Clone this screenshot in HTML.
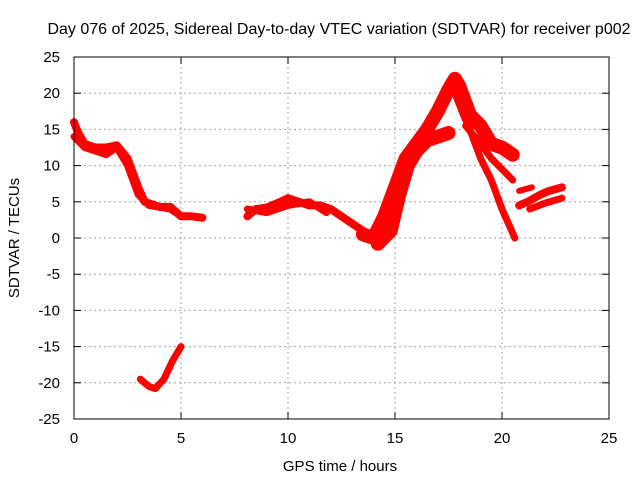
<!DOCTYPE html>
<html><head><meta charset="utf-8"><style>
body{margin:0;background:#fff;}
svg{display:block;font-family:"Liberation Sans",sans-serif;}
</style></head><body>
<svg id="chart" width="640" height="480">
<rect width="640" height="480" fill="#fff"/>
<text x="339" y="34" text-anchor="middle" font-size="16">Day 076 of 2025, Sidereal Day-to-day VTEC variation (SDTVAR) for receiver p002</text>
<text x="340" y="471" text-anchor="middle" font-size="15">GPS time / hours</text>
<text transform="translate(19,238) rotate(-90)" text-anchor="middle" font-size="15">SDTVAR / TECUs</text>
<g id="grid"></g><g id="data"></g>
<rect x="74" y="57" width="535" height="362" fill="none" stroke="#000"/>
</svg>
<script>
const xTicks=[0,5,10,15,20,25];
const yTicks=[25,20,15,10,5,0,-5,-10,-15,-20,-25];
const trackA_x=[0,0.2,0.5,1,1.5,2,2.5,3,3.3,4,4.5,5,5.5,6];
const trackA_y=[16,14.5,13,12.5,12.5,12.8,11,7,5,4.3,4.3,3,3,2.8];
const trackB_x=[0,0.5,1,1.5,2,2.5,3,3.5,4.5,5];
const trackB_y=[14,12.5,12,11.5,12.5,10,6,4.5,4,3];
const trackC_x=[3.1,3.5,3.8,4.2,4.6,5];
const trackC_y=[-19.5,-20.5,-20.8,-19.5,-17,-15];
const trackD_x=[8.1,8.5,9,9.5,10,10.5,11,11.5,12,12.5,13,13.5,14,14.2];
const trackD_y=[3,4,4.2,4.8,5.5,5,4.5,4.5,4,3,2,1,-0.5,0];
const trackE_x=[8.1,9,10,11,11.8];
const trackE_y=[4,3.5,4.5,5,3.5];
const trackF_x=[13.5,14,14.5,15,15.5,16,16.5,17,17.5,17.8,18,18.5,19,19.5,20,20.5];
const trackF_y=[0.5,0,3,7,11,13,15,17.5,20.5,22,21,17,15.5,13,12.5,11.5];
const trackG_x=[14.2,14.8,15.2,15.6,16,16.5,17,17.5];
const trackG_y=[-0.8,1,6,10,12,13.5,14,14.5];
const trackH_x=[17.8,18.2,18.5,19,19.5,20,20.6];
const trackH_y=[20,17,15,11,8,4,0];
const trackI_x=[18.3,19,19.5,20,20.5];
const trackI_y=[15.5,13,11,9.5,8];
const trackJ_x=[20.8,21.2,21.8,22.2,22.8];
const trackJ_y=[4.5,5,6,6.5,7];
const trackK_x=[21.3,22,22.8];
const trackK_y=[4,4.8,5.5];
const trackL_x=[20.8,21.4];
const trackL_y=[6.5,7];
const tracks=[[trackA_x,trackA_y],[trackB_x,trackB_y],[trackC_x,trackC_y],[trackD_x,trackD_y],[trackE_x,trackE_y],[trackF_x,trackF_y],[trackG_x,trackG_y],[trackH_x,trackH_y],[trackI_x,trackI_y],[trackJ_x,trackJ_y],[trackK_x,trackK_y],[trackL_x,trackL_y]];
const trackWidths=[8,7,7,8,7,14,14,7,7,8,7,6];
const NS="http://www.w3.org/2000/svg";
const X=v=>74+(v-0)*535/25;
const Y=v=>238-v*362/50;
const grid=document.getElementById('grid');
function mk(tag,attrs,parent){const e=document.createElementNS(NS,tag);for(const k in attrs)e.setAttribute(k,attrs[k]);parent.appendChild(e);return e;}
xTicks.forEach(t=>{
  const x=X(t);
  if(t>0&&t<25){const l=mk('line',{x1:x,x2:x,y1:57,y2:419,stroke:'#a0a0a0','stroke-dasharray':'2,3'},grid);
  
  }
  mk('line',{x1:x,x2:x,y1:419,y2:412,stroke:'#000'},grid);
  mk('line',{x1:x,x2:x,y1:57,y2:64,stroke:'#000'},grid);
  const tx=mk('text',{x:x,y:443,'text-anchor':'middle','font-size':15},grid);
  tx.textContent=t;
  
  
});
yTicks.forEach(t=>{
  const y=Y(t);
  if(t>-25&&t<25){const l=mk('line',{x1:74,x2:609,y1:y,y2:y,stroke:'#a0a0a0','stroke-dasharray':'2,3'},grid);
  
  }
  mk('line',{x1:74,x2:81,y1:y,y2:y,stroke:'#000'},grid);
  mk('line',{x1:609,x2:602,y1:y,y2:y,stroke:'#000'},grid);
  const tx=mk('text',{x:60,y:y+5,'text-anchor':'end','font-size':15},grid);
  tx.textContent=t;
  
  
});
const data=document.getElementById('data');
tracks.forEach((tr,i)=>{
  const pts=tr[0].map((x,j)=>X(x)+','+Y(tr[1][j])).join(' ');
  const p=mk('polyline',{points:pts,fill:'none',stroke:'#ff0000','stroke-width':trackWidths[i],'stroke-linejoin':'round','stroke-linecap':'round'},data);
  
  
});
</script>
</body></html>
